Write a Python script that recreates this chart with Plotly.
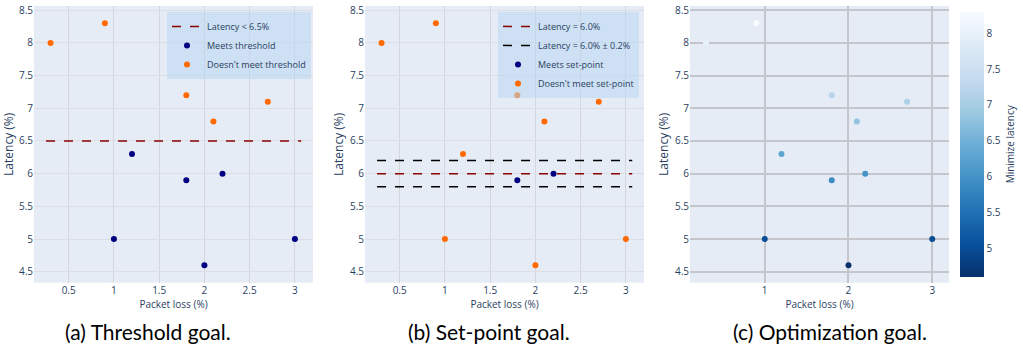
import plotly.graph_objects as go

# ---- data ----
packet_loss = [0.3, 0.9, 1.8, 2.1, 2.7, 1.2, 1.8, 2.2, 1.0, 2.0, 3.0]
latency = [8.0, 8.3, 7.2, 6.8, 7.1, 6.3, 5.9, 6.0, 5.0, 4.6, 5.0]

threshold = 6.5
setpoint = 6.0
tolerance = 0.2
line_x = [0.25, 3.07]

x_ticks_ab = [0.5, 1, 1.5, 2, 2.5, 3]
x_ticks_c = [1, 2, 3]
y_ticks = [4.5, 5, 5.5, 6, 6.5, 7, 7.5, 8, 8.5]
cbar_ticks = [5, 5.5, 6, 6.5, 7, 7.5, 8]
captions = ["(a) Threshold goal.", "(b) Set-point goal.", "(c) Optimization goal."]

NAVY = "#000080"
ORANGE = "#ff6a00"
RED = "#8b0000"

W, H = 1023, 363
def px_x(p): return p / W
def px_y(p): return 1 - p / H

fig = go.Figure()

# ---- panel (a) ----
meets_a = [i for i, v in enumerate(latency) if v < threshold]
fails_a = [i for i, v in enumerate(latency) if v >= threshold]
fig.add_trace(go.Scatter(x=line_x, y=[threshold, threshold], mode="lines",
                         line=dict(color=RED, dash="dash", width=1.5),
                         name="Latency < 6.5%", xaxis="x", yaxis="y", legend="legend"))
fig.add_trace(go.Scatter(x=[packet_loss[i] for i in meets_a], y=[latency[i] for i in meets_a],
                         mode="markers", marker=dict(color=NAVY, size=6),
                         name="Meets threshold", xaxis="x", yaxis="y", legend="legend"))
fig.add_trace(go.Scatter(x=[packet_loss[i] for i in fails_a], y=[latency[i] for i in fails_a],
                         mode="markers", marker=dict(color=ORANGE, size=6),
                         name="Doesn't meet threshold", xaxis="x", yaxis="y", legend="legend"))

# ---- panel (b) ----
meets_b = [i for i, v in enumerate(latency) if abs(v - setpoint) <= tolerance + 1e-9]
fails_b = [i for i in range(len(latency)) if i not in meets_b]
fig.add_trace(go.Scatter(x=line_x, y=[setpoint, setpoint], mode="lines",
                         line=dict(color=RED, dash="dash", width=1.5),
                         name="Latency = 6.0%", xaxis="x2", yaxis="y2", legend="legend2"))
fig.add_trace(go.Scatter(x=line_x + [None] + line_x,
                         y=[setpoint + tolerance] * 2 + [None] + [setpoint - tolerance] * 2,
                         mode="lines", line=dict(color="black", dash="dash", width=1.5),
                         name="Latency = 6.0% ± 0.2%", xaxis="x2", yaxis="y2", legend="legend2"))
fig.add_trace(go.Scatter(x=[packet_loss[i] for i in meets_b], y=[latency[i] for i in meets_b],
                         mode="markers", marker=dict(color=NAVY, size=6),
                         name="Meets set-point", xaxis="x2", yaxis="y2", legend="legend2"))
fig.add_trace(go.Scatter(x=[packet_loss[i] for i in fails_b], y=[latency[i] for i in fails_b],
                         mode="markers", marker=dict(color=ORANGE, size=6),
                         name="Doesn't meet set-point", xaxis="x2", yaxis="y2", legend="legend2"))

# ---- panel (c) ----
fig.add_trace(go.Scatter(x=packet_loss, y=latency, mode="markers",
                         marker=dict(color=latency, colorscale="Blues_r", size=6,
                                     cmin=min(latency), cmax=max(latency),
                                     colorbar=dict(title=dict(text="Minimize latency", side="right",
                                                              font=dict(size=10)),
                                                   tickvals=cbar_ticks, thickness=24,
                                                   x=px_x(960), xanchor="left", xpad=0,
                                                   y=px_y(142.5), yanchor="middle",
                                                   len=267 / H, lenmode="fraction", ypad=0,
                                                   outlinewidth=0, tickfont=dict(size=10))),
                         showlegend=False, xaxis="x3", yaxis="y3"))

x_common = dict(showline=False, zeroline=False, tickfont=dict(size=10), ticks="",
                showgrid=True, ticklabeloverflow="allow")
y_common = dict(showline=False, zeroline=False, tickfont=dict(size=10), ticks="",
                showgrid=True, ticklabeloverflow="allow")

y_dom = [px_y(282), px_y(3)]
y_range = [4.333, 8.565]
fig.update_layout(
    width=W, height=H, margin=dict(l=0, r=0, t=0, b=0),
    template="plotly",
    font=dict(family="Open Sans", color="#2a3f5f"),
    xaxis=dict(domain=[px_x(34), px_x(313)], range=[0.117, 3.2], tickvals=x_ticks_ab,
               title=dict(text="Packet loss (%)", standoff=4, font=dict(size=10)), anchor="y",
               gridcolor="#d4d6dc", **x_common),
    yaxis=dict(domain=y_dom, range=y_range, tickvals=y_ticks,
               title=dict(text="Latency (%)", font=dict(size=12), standoff=6), anchor="x",
               gridcolor="#dcdee4", **y_common),
    xaxis2=dict(domain=[px_x(365), px_x(644)], range=[0.117, 3.2], tickvals=x_ticks_ab,
                title=dict(text="Packet loss (%)", standoff=4, font=dict(size=10)), anchor="y2",
                gridcolor="#d4d6dc", **x_common),
    yaxis2=dict(domain=y_dom, range=y_range, tickvals=y_ticks,
                title=dict(text="Latency (%)", font=dict(size=12), standoff=3), anchor="x2",
                gridcolor="#dcdee4", **y_common),
    xaxis3=dict(domain=[px_x(690), px_x(949)], range=[0.108, 3.2], tickvals=x_ticks_c,
                title=dict(text="Packet loss (%)", standoff=4, font=dict(size=10)), anchor="y3",
                gridcolor="#c4c6cc", gridwidth=1.5, **x_common),
    yaxis3=dict(domain=y_dom, range=y_range, tickvals=y_ticks,
                title=dict(text="Latency (%)", font=dict(size=12), standoff=3), anchor="x3",
                gridcolor="#c4c6cc", gridwidth=1.5, **y_common),
    legend=dict(x=px_x(311), y=px_y(9), xanchor="right", yanchor="top",
                bgcolor="rgba(185,215,242,0.55)", font=dict(size=9),
                itemwidth=30, tracegroupgap=0),
    legend2=dict(x=px_x(639), y=px_y(9), xanchor="right", yanchor="top",
                 bgcolor="rgba(185,215,242,0.55)", font=dict(size=9),
                 itemwidth=30, tracegroupgap=0),
)

centers = [148, 489, 830]
for c, txt in zip(centers, captions):
    fig.add_annotation(text=txt, x=px_x(c), y=px_y(331), xref="paper", yref="paper",
                       xanchor="center", yanchor="middle", showarrow=False,
                       font=dict(family="Lato", size=21, color="black"))

fig.write_html("out.html")
